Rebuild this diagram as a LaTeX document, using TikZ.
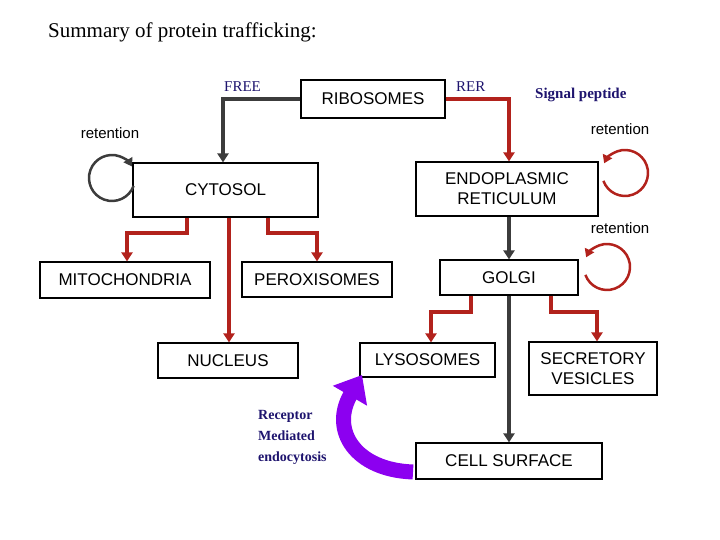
\documentclass[tikz,border=0pt]{standalone}
\usepackage{fontspec}
\setmainfont{Liberation Serif}
\newfontfamily\boxfont{Liberation Sans}
\usetikzlibrary{arrows.meta,calc}
\definecolor{rd}{RGB}{178,34,28}
\definecolor{gr}{RGB}{60,60,60}
\definecolor{navy}{RGB}{30,20,110}
\definecolor{vio}{RGB}{140,0,240}
\begin{document}
\begin{tikzpicture}[x=1pt,y=1pt,
  box/.style={draw=black,line width=1.2pt,fill=white,inner sep=0pt,align=center,font=\boxfont\fontsize{17}{20}\selectfont},
  rarr/.style={draw=rd,line width=3.5pt,-{Triangle[length=9pt,width=11pt]}},
  garr/.style={draw=gr,line width=3.5pt,-{Triangle[length=9pt,width=11pt]}},
  lbl/.style={font=\boxfont\fontsize{15}{17}\selectfont,inner sep=0pt},
  ser/.style={font=\fontsize{15}{17}\selectfont,text=navy,inner sep=0pt}]
\useasboundingbox (0,0) rectangle (720,540);
% boxes (x from left, y = 540 - screen y)
\node[box,minimum width=144pt,minimum height=38pt] (rib) at (373,441) {RIBOSOMES};
\node[box,minimum width=185pt,minimum height=54pt] (cyt) at (225.5,350) {CYTOSOL};
\node[box,minimum width=182pt,minimum height=54pt] (er) at (507,351) {ENDOPLASMIC\\RETICULUM};
\node[box,minimum width=170pt,minimum height=36pt] (mit) at (125,260) {MITOCHONDRIA};
\node[box,minimum width=150pt,minimum height=35pt] (per) at (317,260.5) {PEROXISOMES};
\node[box,minimum width=138pt,minimum height=35pt] (gol) at (509,262.5) {GOLGI};
\node[box,minimum width=140pt,minimum height=35pt] (nuc) at (228,179.5) {NUCLEUS};
\node[box,minimum width=135pt,minimum height=34pt] (lys) at (427.5,180) {LYSOSOMES};
\node[box,minimum width=128pt,minimum height=53pt] (sec) at (593,171.5) {SECRETORY\\VESICLES};
\node[box,minimum width=186pt,minimum height=36pt] (cel) at (509,79) {CELL SURFACE};
% connectors
\draw[garr] (rib.west) -| (cyt.north -| 223,0);
\draw[rarr] (rib.east) -| (er.north -| 509,0);
\draw[rarr] (cyt.south -| 187,0) |- (127,307) -- (mit.north -| 127,0);
\draw[rarr] (cyt.south -| 268,0) |- (317,307) -- (per.north -| 317,0);
\draw[rarr] (cyt.south -| 229,0) -- (nuc.north -| 229,0);
\draw[garr] (er.south -| 509,0) -- (gol.north -| 509,0);
\draw[rarr] (gol.south -| 471,0) |- (431,228) -- (lys.north -| 431,0);
\draw[rarr] (gol.south -| 551,0) |- (597,228) -- (sec.north -| 597,0);
\draw[garr] (gol.south -| 509,0) -- (cel.north -| 509,0);
% retention loops
\coordinate (c1) at (112,362);
\coordinate (c2) at (625,367);
\coordinate (c3) at (607,273);
\draw[line width=2.5pt,gr,-{Triangle[length=8pt,width=10pt]}] ($(c1)+(-20:23)$) arc[start angle=-20,end angle=-330,radius=23];
\draw[line width=2.5pt,rd,-{Triangle[length=8pt,width=10pt]}] ($(c2)+(200:23)$) arc[start angle=200,end angle=515,radius=23];
\draw[line width=2.5pt,rd,-{Triangle[length=8pt,width=10pt]}] ($(c3)+(200:23)$) arc[start angle=200,end angle=515,radius=23];
\node[lbl] (r1) at (110,407) {retention};
\node[lbl] (r2) at (620,411) {retention};
\node[lbl] (r3) at (620,312) {retention};
% purple arrow
\coordinate (pa) at (413,68);
\draw[vio,line width=15pt,-{Triangle[length=24pt,width=38pt]}] (pa) .. controls (355,70) and (330,110) .. (362,165);
% texts
\node[font=\fontsize{21}{24}\selectfont,anchor=base west,inner sep=0pt] (ttl) at (48,502) {Summary of protein trafficking:};
\node[ser,anchor=base west] (fr) at (224,448) {FREE};
\node[ser,anchor=base west] (rer) at (456,448) {RER};
\node[ser,anchor=base west,font=\bfseries\fontsize{15}{17}\selectfont] (sp) at (535,441) {Signal peptide};
\node[ser,anchor=north west,align=left,font=\bfseries\fontsize{14}{21}\selectfont] (rme) at (258,130) {Receptor\\Mediated\\endocytosis};
\end{tikzpicture}
\end{document}
